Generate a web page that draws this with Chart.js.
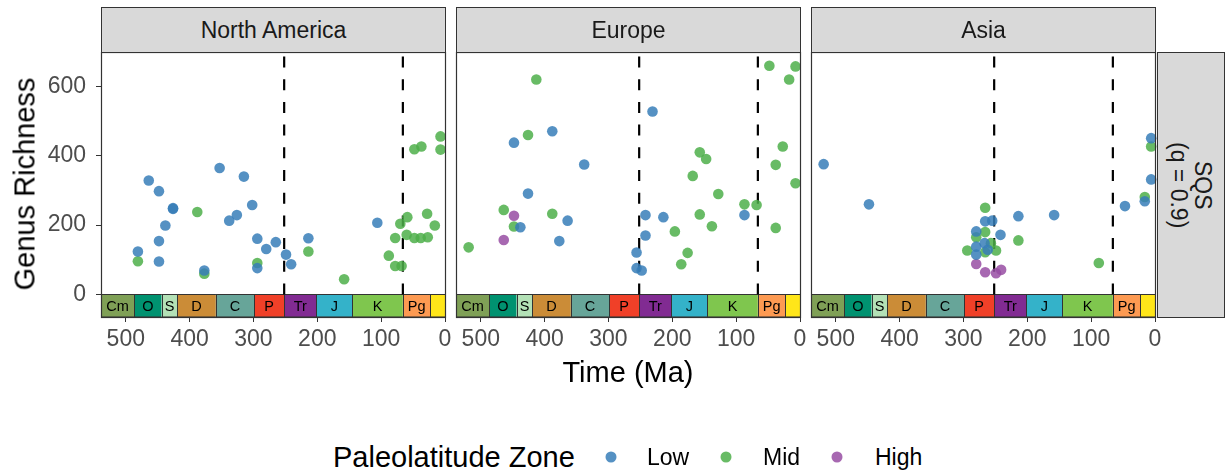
<!DOCTYPE html>
<html>
<head>
<meta charset="utf-8">
<title>Genus richness through time</title>
<script src="https://cdn.jsdelivr.net/npm/chart.js@4.4.1/dist/chart.umd.min.js"></script>
<style>
  body { margin: 0; background: #fff; }
  #figure { position: relative; width: 1225px; height: 473px; overflow: hidden;
            font-family: 'Liberation Sans', Arial, Helvetica, sans-serif; }
  #figure canvas { position: absolute; top: 0; }
  .strip { position: absolute; box-sizing: border-box; background: #d9d9d9;
           border: 1px solid #333; color: #1a1a1a; font-size: 23px;
           display: flex; align-items: center; justify-content: center; }
  .strip .vert { writing-mode: vertical-rl; text-align: center; line-height: 1.05; }
  .title { position: absolute; color: #000; font-size: 29px; white-space: nowrap;
           transform: translate(-50%, -50%); }
  .title.ytitle { transform: translate(-50%, -50%) rotate(-90deg); }
  .legend { position: absolute; white-space: nowrap; color: #000; transform: translate(0, -50%); }
  .dot { position: absolute; width: 11px; height: 11px; border-radius: 50%;
         transform: translate(-50%, -50%); }
</style>
</head>
<body>
<div id="figure">
  <canvas id="panel-na" width="461" height="360" style="left:0px"></canvas>
  <canvas id="panel-eu" width="368" height="360" style="left:448px"></canvas>
  <canvas id="panel-as" width="368" height="360" style="left:803px"></canvas>

  <div class="strip" style="left:101px;top:7px;width:345px;height:46px">North America</div>
  <div class="strip" style="left:456px;top:7px;width:345px;height:46px">Europe</div>
  <div class="strip" style="left:811px;top:7px;width:345px;height:46px">Asia</div>
  <div class="strip" style="left:1157px;top:52px;width:68px;height:266px"><div class="vert">SQS<br>(q = 0.9)</div></div>

  <div class="title ytitle" style="left:25px;top:184px">Genus Richness</div>
  <div class="title" style="left:628px;top:372px">Time (Ma)</div>

  <div class="legend" style="left:333px;top:457px;font-size:29px">Paleolatitude Zone</div>
  <span class="dot" style="left:611px;top:457px;background:rgba(55,126,184,0.85)"></span>
  <span class="dot" style="left:726px;top:457px;background:rgba(77,175,74,0.85)"></span>
  <span class="dot" style="left:837px;top:457px;background:rgba(152,78,163,0.85)"></span>
  <div class="legend" style="left:647px;top:457px;font-size:23px">Low</div>
  <div class="legend" style="left:763px;top:457px;font-size:23px">Mid</div>
  <div class="legend" style="left:875px;top:457px;font-size:23px">High</div>
</div>

<script>
// [age (Ma), genus richness] per region and paleolatitude zone
const naLow = [[464,329],[448,298],[426,247],[426,249],[438,199],[448,154],[481,124],[448,95],
  [377,69],[353,365],[315,340],[338,213],[326,229],[302,258],[294,161],[294,76],[280,131],
  [265,151],[249,115],[241,87],[214,162],[106,207]];
const naMid = [[481,96],[388,238],[377,60],[294,91],[214,124],[158,44],[88,112],[78,82],[68,82],
  [78,163],[70,204],[59,223],[60,172],[48,163],[38,163],[27,165],[28,233],[16,199],[48,419],
  [37,427],[7,456],[7,418]];
const naHigh = [];

const euLow = [[438,194],[448,438],[426,291],[388,471],[364,213],[377,154],[338,375],[256,121],
  [256,76],[248,69],[242,170],[242,229],[231,528],[214,223],[87,229]];
const euMid = [[519,136],[464,244],[448,196],[426,460],[413,620],[388,233],[196,182],[186,87],
  [176,120],[168,342],[157,410],[147,391],[157,231],[138,197],[128,290],[87,260],[68,258],
  [48,660],[7,658],[17,620],[27,427],[38,374],[7,321],[38,192]];
const euHigh = [[448,227],[464,157]];

const asLow = [[519,376],[448,260],[266,211],[255,213],[280,182],[242,172],[267,148],[280,138],
  [262,129],[280,115],[214,226],[158,229],[47,255],[16,269],[6,451],[6,332]];
const asMid = [[266,250],[266,180],[280,165],[257,148],[294,127],[249,127],[266,122],[214,156],
  [88,91],[16,281],[6,427]];
const asHigh = [[280,88],[266,64],[249,61],[241,71]];

// geological periods (base age, Ma) for the timescale strip
const periodNames = ['Cm', 'O', 'S', 'D', 'C', 'P', 'Tr', 'J', 'K', 'Pg', ''];
const periodBase = [538.8, 486.85, 443.8, 419.2, 358.9, 298.9, 251.9, 201.4, 145, 66, 23.03];
const periodColors = ['#7fa056', '#009270', '#b3e1b6', '#cb8c37', '#67a599', '#f04028',
  '#812b92', '#34b2c9', '#7fc64e', '#fd9a52', '#ffe619'];

// mass extinction boundaries (end-Permian, end-Cretaceous)
const boundaries = [251.9, 66];

const xTicks = [500, 400, 300, 200, 100, 0];
const yTicks = [0, 200, 400, 600];

const zoneColors = ['rgba(55,126,184,0.85)', 'rgba(77,175,74,0.85)', 'rgba(152,78,163,0.85)'];
const fontFamily = "'Liberation Sans', Arial, Helvetica, sans-serif";

// timescale boxes, dashed boundary lines and panel border
const panelDecor = {
  id: 'panelDecor',
  beforeDatasetsDraw(chart) {
    const { ctx, chartArea: a, scales: { x, y } } = chart;
    const y0 = Math.round(y.getPixelForValue(0)) + 0.5;
    ctx.save();
    ctx.font = '14.5px ' + fontFamily;
    ctx.textAlign = 'center';
    ctx.textBaseline = 'middle';
    periodNames.forEach(function (name, i) {
      const top = i + 1 < periodBase.length ? periodBase[i + 1] : 0;
      const x1 = x.getPixelForValue(periodBase[i]);
      const x2 = x.getPixelForValue(top);
      ctx.fillStyle = periodColors[i];
      ctx.fillRect(x1, y0, x2 - x1, a.bottom - y0);
      ctx.strokeStyle = '#333';
      ctx.lineWidth = 1;
      ctx.strokeRect(Math.round(x1) + 0.5, y0, Math.round(x2) - Math.round(x1), a.bottom - y0);
      if (name) {
        ctx.fillStyle = '#000';
        ctx.fillText(name, (x1 + x2) / 2, (y0 + a.bottom) / 2 + 1);
      }
    });

    ctx.strokeStyle = '#000';
    ctx.lineWidth = 2.2;
    ctx.setLineDash([11, 11.7]);
    boundaries.forEach(function (age) {
      const px = x.getPixelForValue(age);
      ctx.beginPath();
      ctx.moveTo(px, y0);
      ctx.lineTo(px, a.top);
      ctx.stroke();
    });
    ctx.restore();
  },
  afterDraw(chart) {
    const { ctx, chartArea: a } = chart;
    ctx.save();
    ctx.strokeStyle = '#333';
    ctx.lineWidth = 1.2;
    ctx.strokeRect(a.left + 0.5, a.top + 0.5, a.right - a.left, a.bottom - a.top);
    ctx.restore();
  }
};

function toPoints(list) {
  return list.map(function (p) { return { x: p[0], y: p[1] }; });
}

function makePanel(id, low, mid, high, withYAxis) {
  const ctx = document.getElementById(id).getContext('2d');
  return new Chart(ctx, {
    type: 'scatter',
    data: {
      datasets: [low, mid, high].map(function (set, i) {
        return {
          data: toPoints(set),
          backgroundColor: zoneColors[i],
          borderWidth: 0,
          pointRadius: 5.3,
          clip: false
        };
      })
    },
    options: {
      responsive: false,
      animation: false,
      events: [],
      layout: { padding: { left: withYAxis ? 0 : 8, right: 16, top: 52, bottom: 0 } },
      plugins: { legend: { display: false }, tooltip: { enabled: false } },
      scales: {
        x: {
          type: 'linear',
          reverse: true,
          min: 0,
          max: 538.8,
          afterBuildTicks: function (s) { s.ticks = xTicks.map(function (v) { return { value: v }; }); },
          afterFit: function (s) { s.height = 43; },
          grid: { drawOnChartArea: false, drawTicks: true, tickLength: 5, color: '#333' },
          border: { display: false },
          ticks: {
            autoSkip: false, maxRotation: 0, padding: 4, color: '#4d4d4d',
            font: { size: 23, family: fontFamily }
          }
        },
        y: {
          display: withYAxis,
          min: -65,
          max: 699.5,
          afterBuildTicks: function (s) { s.ticks = yTicks.map(function (v) { return { value: v }; }); },
          afterFit: function (s) { if (withYAxis) s.width = 101; },
          grid: { drawOnChartArea: false, drawTicks: true, tickLength: 5, color: '#333' },
          border: { display: false },
          ticks: {
            padding: 10, color: '#4d4d4d',
            font: { size: 23, family: fontFamily }
          }
        }
      }
    },
    plugins: [panelDecor]
  });
}

makePanel('panel-na', naLow, naMid, naHigh, true);
makePanel('panel-eu', euLow, euMid, euHigh, false);
makePanel('panel-as', asLow, asMid, asHigh, false);
</script>
</body>
</html>
